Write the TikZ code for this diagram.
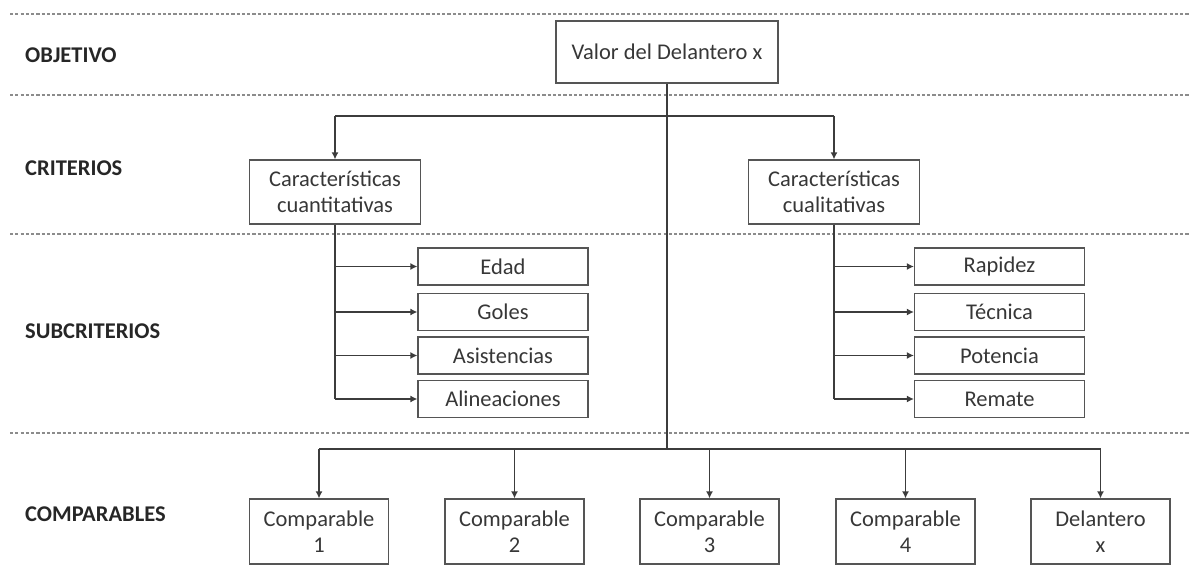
\documentclass[tikz,border=0pt]{standalone}
\usepackage{fontspec}
\setmainfont{Carlito}
\usetikzlibrary{arrows.meta, positioning}
\definecolor{linegray}{RGB}{60,60,60}
\definecolor{boxgray}{RGB}{85,85,85}
\definecolor{dashgray}{RGB}{140,140,140}
\definecolor{textgray}{RGB}{55,55,55}

\begin{document}
\begin{tikzpicture}[x=0.02cm, y=-0.02cm,
    caja/.style={draw=boxgray, line width=0.7pt, align=center, inner sep=1pt,
        text=textgray, font=\fontsize{12.8}{15}\selectfont},
    objbox/.style={caja, minimum width=4.44cm, minimum height=1.24cm},
    critbox/.style={caja, minimum width=3.42cm, minimum height=1.28cm},
    subbox/.style={caja, minimum width=3.4cm, minimum height=0.74cm},
    compbox/.style={caja, minimum width=2.78cm, minimum height=1.3cm},
    nivel/.style={anchor=west, text=black!85, font=\fontsize{12.8}{14}\selectfont\bfseries},
    divisor/.style={draw=dashgray, line width=0.6pt, dash pattern=on 1.8pt off 1.2pt},
    conector/.style={draw=linegray, line width=0.85pt},
    flecha/.style={conector, -{Latex[length=4pt, width=4pt]}}]
    \useasboundingbox (0,0) rectangle (1189,577);

    % Level separators
    \draw[divisor] (10,14) -- (1189,14);
    \draw[divisor] (10,95) -- (1189,95);
    \draw[divisor] (10,234) -- (1189,234);
    \draw[divisor] (10,433) -- (1189,433);

    % Level labels
    \node[nivel] (lobj) at (19,55) {OBJETIVO};
    \node[nivel] (lcrit) at (19,168) {CRITERIOS};
    \node[nivel] (lsub) at (19,331) {SUBCRITERIOS};
    \node[nivel] (lcomp) at (19,514) {COMPARABLES};

    % Objective
    \node[objbox] (valor) at (667,52) {Valor del Delantero x};

    % Criteria
    \node[critbox] (cuanti) at (335,192) {Características\\cuantitativas};
    \node[critbox] (cuali) at (834,192) {Características\\cualitativas};

    % Subcriteria
    \node[subbox] (edad) at (503,266.5) {Edad};
    \node[subbox] (goles) at (503,312) {Goles};
    \node[subbox] (asist) at (503,355.5) {Asistencias};
    \node[subbox] (alin) at (503,399) {Alineaciones};
    \node[subbox] (rapid) at (999.5,266.5) {Rapidez};
    \node[subbox] (tecn) at (999.5,312) {Técnica};
    \node[subbox] (poten) at (999.5,355.5) {Potencia};
    \node[subbox] (remat) at (999.5,399) {Remate};

    % Comparables
    \node[compbox] (comp1) at (319,531.5) {Comparable\\1};
    \node[compbox] (comp2) at (514.5,531.5) {Comparable\\2};
    \node[compbox] (comp3) at (709.5,531.5) {Comparable\\3};
    \node[compbox] (comp4) at (905.5,531.5) {Comparable\\4};
    \node[compbox] (delx) at (1100.5,531.5) {Delantero\\x};

    % Connectors
    \coordinate (critbus) at (667,116);
    \coordinate (compbus) at (667,449);
    \draw[conector] (valor.south) -- (compbus);
    \draw[conector] (cuanti.north |- critbus) -- (cuali.north |- critbus);
    \draw[flecha] (cuanti.north |- critbus) -- (cuanti.north);
    \draw[flecha] (cuali.north |- critbus) -- (cuali.north);

    \draw[conector] (cuanti.south) -- (cuanti.south |- alin.west);
    \draw[flecha] (cuanti.south |- edad.west) -- (edad.west);
    \draw[flecha] (cuanti.south |- goles.west) -- (goles.west);
    \draw[flecha] (cuanti.south |- asist.west) -- (asist.west);
    \draw[flecha] (cuanti.south |- alin.west) -- (alin.west);

    \draw[conector] (cuali.south) -- (cuali.south |- remat.west);
    \draw[flecha] (cuali.south |- rapid.west) -- (rapid.west);
    \draw[flecha] (cuali.south |- tecn.west) -- (tecn.west);
    \draw[flecha] (cuali.south |- poten.west) -- (poten.west);
    \draw[flecha] (cuali.south |- remat.west) -- (remat.west);

    \draw[conector] (comp1.north |- compbus) -- (delx.north |- compbus);
    \draw[flecha] (comp1.north |- compbus) -- (comp1.north);
    \draw[flecha] (comp2.north |- compbus) -- (comp2.north);
    \draw[flecha] (comp3.north |- compbus) -- (comp3.north);
    \draw[flecha] (comp4.north |- compbus) -- (comp4.north);
    \draw[flecha] (delx.north |- compbus) -- (delx.north);
\end{tikzpicture}
\end{document}
